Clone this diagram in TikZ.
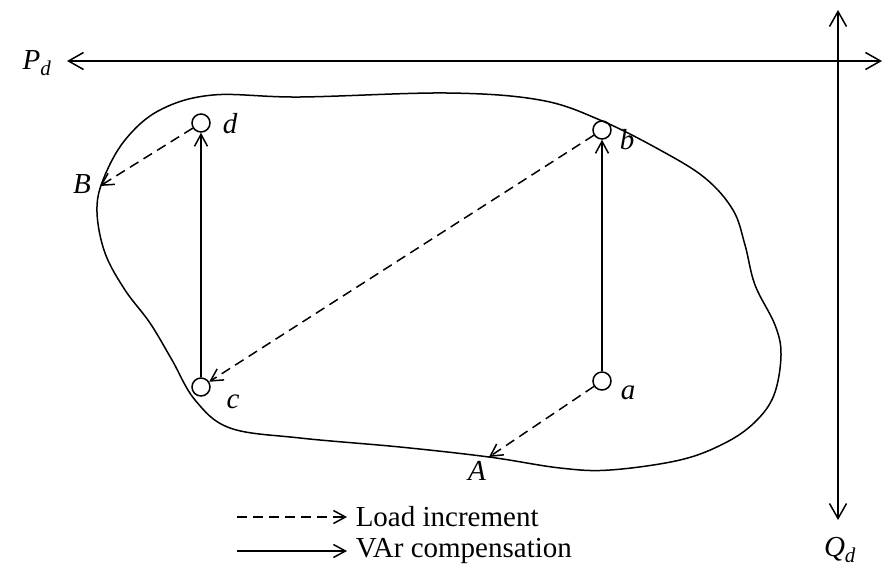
\documentclass[tikz,border=0pt]{standalone}
\usepackage{fontspec}
\setmainfont{Liberation Serif}
\usetikzlibrary{arrows.meta}
\begin{document}
\begin{tikzpicture}[x=1pt,y=-1pt,
  line width=1.5pt,
  bigtips/.style={{Straight Barb[length=15pt,width=17pt,line width=1.5pt]}-{Straight Barb[length=15pt,width=17pt,line width=1.5pt]}},
  tip/.style={-{Straight Barb[length=12pt,width=13pt,line width=1.5pt]}},
  dsh/.style={tip,dash pattern=on 10pt off 6pt},
  pt/.style={draw,circle,minimum size=18pt,inner sep=0pt,line width=1.5pt},
  lbl/.style={font=\fontsize{29}{32}\selectfont\itshape,inner sep=0pt},
  txt/.style={font=\fontsize{29}{32}\selectfont,inner sep=0pt,anchor=west}]
\useasboundingbox (0,0) rectangle (883,574);
% axes
\coordinate (PL) at (67,61);
\coordinate (PR) at (882,61);
\coordinate (QT) at (838,10);
\coordinate (QB) at (838,520);
\draw[bigtips] (PL) -- (PR);
\draw[bigtips] (QT) -- (QB);
\node[lbl] (Pd) at (37,63) {P\textsubscript{\fontsize{21}{23}\selectfont d}};
\node[lbl] (Qd) at (840,550) {Q\textsubscript{\fontsize{21}{23}\selectfont d}};
% region
\draw plot[smooth cycle,tension=0.6] coordinates {
 (213,95) (300,97) (447,93) (540,100) (600,120) (660,150) (705,178) (733,210)
 (745,245) (755,285) (775,325) (781,355) (774,395) (755,422) (725,443)
 (680,460) (610,470) (560,468) (489,457) (400,447) (300,438) (230,428)
 (195,400) (172,360) (150,323) (125,290) (105,253) (97,212) (103,180)
 (125,140) (160,110)};
% points
\node[pt] (d) at (201,123) {};
\node[pt] (b) at (602,130) {};
\node[pt] (c) at (201,387) {};
\node[pt] (a) at (602,381) {};
\coordinate (A) at (489,457);
\coordinate (B) at (100,186);
\node[lbl] (ld) at (230,124) {d};
\node[lbl] (lb) at (627,140) {b};
\node[lbl] (lc) at (233,402) {c};
\node[lbl] (la) at (628,393) {a};
\node[lbl] (lB) at (82,184) {B};
\node[lbl] (lA) at (477,471) {A};
% arrows
\draw[tip] (c) -- (d);
\draw[tip] (a) -- (b);
\draw[dsh] (d) -- (B);
\draw[dsh] (b) -- (c);
\draw[dsh] (a) -- (A);
% legend
\coordinate (L1s) at (237,517);
\coordinate (L1e) at (347,517);
\coordinate (L2s) at (237,551);
\coordinate (L2e) at (347,551);
\draw[dsh] (L1s) -- (L1e);
\draw[tip] (L2s) -- (L2e);
\node[txt] (t1) at (355,517) {Load increment};
\node[txt] (t2) at (355,551) {VAr compensation};
\end{tikzpicture}
\end{document}
